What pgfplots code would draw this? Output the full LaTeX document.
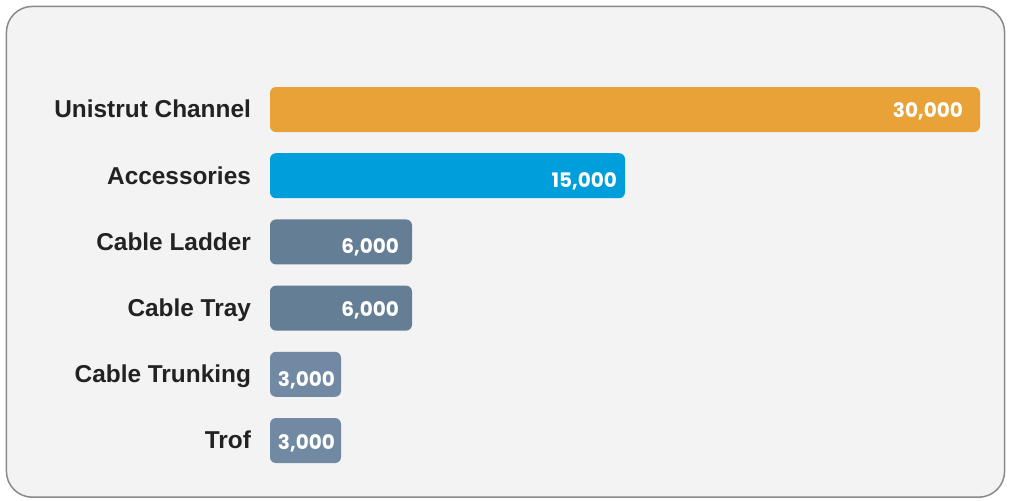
\documentclass[border=0pt]{standalone}
\usepackage{fontspec}
\setmainfont{Liberation Sans}
\newfontfamily\valfont{Poppins}
\usepackage{pgfplots}
\pgfplotsset{compat=1.18}
\definecolor{bg}{HTML}{F2F3F2}
\definecolor{panelborder}{HTML}{8A8A8A}
\definecolor{labeltext}{HTML}{222222}
\definecolor{corange}{HTML}{E8A237}
\definecolor{cblue}{HTML}{009EDB}
\definecolor{cslate}{HTML}{647E96}
\definecolor{clight}{HTML}{7189A3}
\begin{document}
\begin{tikzpicture}
\useasboundingbox (0,0) rectangle (505.5pt,-250pt);
\fill[bg, draw=panelborder, line width=0.75pt, rounded corners=13pt] (3.2pt,-3.2pt) rectangle (502.3pt,-248.6pt);
\begin{axis}[
  at={(135pt,-236.8pt)}, anchor=south west,
  scale only axis, width=355pt, height=198.6pt,
  xmin=0, xmax=30000, ymin=-0.5, ymax=5.5, y dir=reverse,
  xbar, bar width=22.5pt, bar shift=0pt,
  axis line style={draw=none},
  xtick=\empty, ytick={0,1,2,3,4,5},
  yticklabels={Unistrut Channel, Accessories, Cable Ladder, Cable Tray, Cable Trunking, Trof},
  yticklabel style={font=\bfseries\fontsize{12.2}{14}\selectfont, text=labeltext, anchor=east, text height=8.7pt, text depth=0pt, xshift=-6pt, yshift=0.2pt},
  major tick length=0pt,
  clip=false,
  point meta=explicit symbolic,
  nodes near coords,
  nodes near coords style={font=\valfont\bfseries\fontsize{10}{12}\selectfont, text=white, anchor=east},
]
\addplot[fill=corange, draw=none, rounded corners=3pt, nodes near coords style={xshift=-5pt, yshift=-0.8pt}] coordinates {(30000,0) [30,000]};
\addplot[fill=cblue, draw=none, rounded corners=3pt, nodes near coords style={xshift=-0.5pt, yshift=-3pt}] coordinates {(15000,1) [15,000]};
\addplot[fill=cslate, draw=none, rounded corners=3pt, nodes near coords style={xshift=-3pt, yshift=-2.5pt}] coordinates {(6000,2) [6,000]};
\addplot[fill=cslate, draw=none, rounded corners=3pt, nodes near coords style={xshift=-3pt, yshift=-1pt}] coordinates {(6000,3) [6,000]};
\addplot[fill=clight, draw=none, rounded corners=3pt, nodes near coords style={xshift=0.5pt, yshift=-3pt}] coordinates {(3000,4) [3,000]};
\addplot[fill=clight, draw=none, rounded corners=3pt, nodes near coords style={xshift=0.5pt, yshift=-1.5pt}] coordinates {(3000,5) [3,000]};
\end{axis}
\end{tikzpicture}
\end{document}
